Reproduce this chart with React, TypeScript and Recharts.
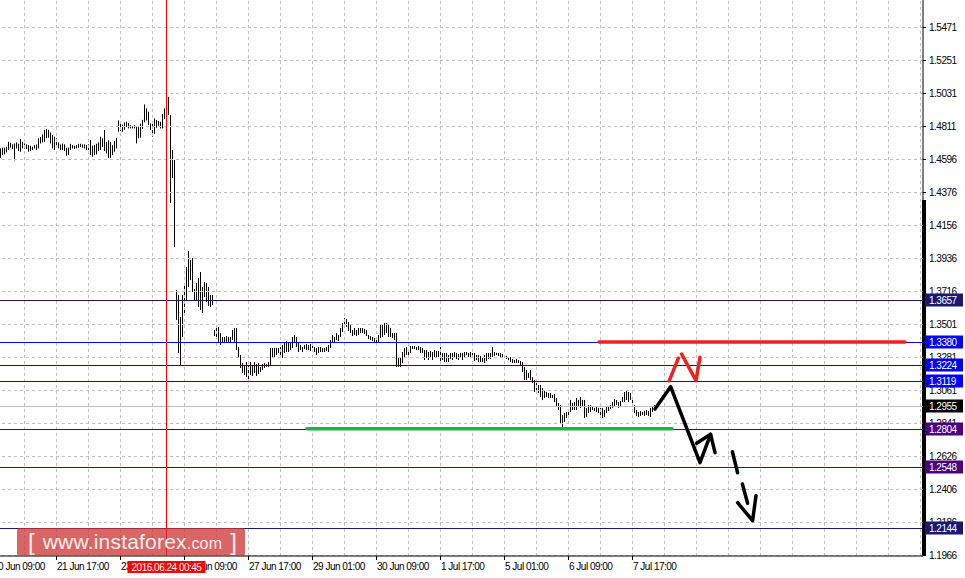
import React from 'react';
import { ComposedChart, Bar, Line, XAxis, YAxis, ReferenceLine } from 'recharts';

// GBP/USD H1 bars, highs and lows (one bar per hour)
const highs = [
  1.4664, 1.4669, 1.4669, 1.4675, 1.4708, 1.4702, 1.4691, 1.4697, 1.4704, 1.4695,
  1.4726, 1.4708, 1.4697, 1.4691, 1.4686, 1.4682, 1.4675, 1.4686, 1.4691, 1.4731,
  1.4740, 1.4757, 1.4788, 1.4793, 1.4788, 1.4770, 1.4753, 1.4742, 1.4731, 1.4704,
  1.4691, 1.4697, 1.4691, 1.4669, 1.4669, 1.4695, 1.4686, 1.4682, 1.4686, 1.4695,
  1.4695, 1.4691, 1.4691, 1.4686, 1.4691, 1.4720, 1.4682, 1.4686, 1.4695, 1.4704,
  1.4742, 1.4731, 1.4786, 1.4708, 1.4717, 1.4708, 1.4686, 1.4713, 1.4735, 1.4850,
  1.4832, 1.4823, 1.4837, 1.4841, 1.4832, 1.4819, 1.4810, 1.4819, 1.4812, 1.4808,
  1.4828, 1.4854, 1.4956, 1.4930, 1.4907, 1.4830, 1.4841, 1.4863, 1.4852, 1.4846,
  1.4841, 1.4894, 1.4930, 1.4985, 1.5005, 1.4886, 1.4654, 1.4587, 1.3725, 1.3691,
  1.3545, 1.3691, 1.3758, 1.3877, 1.3983, 1.3924, 1.3937, 1.3731, 1.3771, 1.3804,
  1.3844, 1.3745, 1.3778, 1.3771, 1.3745, 1.3691, 1.3691, 1.3459, 1.3492, 1.3479,
  1.3439, 1.3413, 1.3413, 1.3419, 1.3413, 1.3413, 1.3459, 1.3472, 1.3472, 1.3346,
  1.3293, 1.3240, 1.3227, 1.3247, 1.3227, 1.3247, 1.3227, 1.3247, 1.3233, 1.3240,
  1.3214, 1.3233, 1.3240, 1.3233, 1.3247, 1.3340, 1.3340, 1.3340, 1.3340, 1.3340,
  1.3346, 1.3360, 1.3380, 1.3386, 1.3373, 1.3380, 1.3413, 1.3426, 1.3413, 1.3373,
  1.3360, 1.3346, 1.3360, 1.3366, 1.3360, 1.3366, 1.3360, 1.3346, 1.3340, 1.3346,
  1.3346, 1.3340, 1.3340, 1.3346, 1.3360, 1.3393, 1.3426, 1.3413, 1.3439, 1.3426,
  1.3472, 1.3506, 1.3539, 1.3532, 1.3512, 1.3492, 1.3459, 1.3472, 1.3459, 1.3472,
  1.3472, 1.3472, 1.3466, 1.3459, 1.3426, 1.3419, 1.3413, 1.3406, 1.3406, 1.3426,
  1.3492, 1.3499, 1.3506, 1.3506, 1.3492, 1.3472, 1.3439, 1.3439, 1.3439, 1.3280,
  1.3280, 1.3313, 1.3340, 1.3346, 1.3326, 1.3353, 1.3353, 1.3353, 1.3346, 1.3353,
  1.3346, 1.3340, 1.3326, 1.3326, 1.3313, 1.3320, 1.3313, 1.3326, 1.3320, 1.3320,
  1.3346, 1.3307, 1.3307, 1.3307, 1.3293, 1.3307, 1.3307, 1.3313, 1.3307, 1.3300,
  1.3307, 1.3307, 1.3313, 1.3313, 1.3307, 1.3313, 1.3307, 1.3307, 1.3293, 1.3293,
  1.3287, 1.3280, 1.3293, 1.3307, 1.3307, 1.3307, 1.3346, 1.3313, 1.3307, 1.3307,
  1.3307, 1.3300, 1.3293, 1.3287, 1.3280, 1.3280, 1.3267, 1.3260, 1.3267, 1.3260,
  1.3253, 1.3247, 1.3214, 1.3194, 1.3174, 1.3194, 1.3147, 1.3127, 1.3108, 1.3094,
  1.3094, 1.3074, 1.3061, 1.3048, 1.3041, 1.3041, 1.3028, 1.3034, 1.3008, 1.2975,
  1.2961, 1.2895, 1.2908, 1.2915, 1.2928, 1.2995, 1.2975, 1.2981, 1.3008, 1.2995,
  1.3015, 1.2995, 1.2995, 1.2942, 1.2961, 1.2961, 1.2948, 1.2942, 1.2948, 1.2942,
  1.2942, 1.2942, 1.2928, 1.2948, 1.2955, 1.2961, 1.2981, 1.3001, 1.2995, 1.2981,
  1.2988, 1.3015, 1.3048, 1.3061, 1.3048, 1.3041, 1.3015, 1.2961, 1.2928, 1.2915,
  1.2922, 1.2915, 1.2922, 1.2928, 1.2922, 1.2942, 1.2948, 1.2961,
];

const lows = [
  1.4602, 1.4620, 1.4624, 1.4638, 1.4653, 1.4669, 1.4660, 1.4585, 1.4664, 1.4647,
  1.4642, 1.4664, 1.4664, 1.4660, 1.4642, 1.4647, 1.4653, 1.4664, 1.4653, 1.4664,
  1.4697, 1.4704, 1.4708, 1.4731, 1.4735, 1.4697, 1.4664, 1.4653, 1.4669, 1.4664,
  1.4653, 1.4653, 1.4647, 1.4616, 1.4620, 1.4653, 1.4664, 1.4660, 1.4664, 1.4669,
  1.4673, 1.4669, 1.4664, 1.4653, 1.4653, 1.4620, 1.4609, 1.4620, 1.4624, 1.4647,
  1.4653, 1.4675, 1.4647, 1.4631, 1.4602, 1.4602, 1.4620, 1.4642, 1.4664, 1.4775,
  1.4779, 1.4775, 1.4788, 1.4806, 1.4797, 1.4797, 1.4797, 1.4797, 1.4697, 1.4731,
  1.4735, 1.4793, 1.4837, 1.4850, 1.4819, 1.4786, 1.4742, 1.4761, 1.4801, 1.4815,
  1.4797, 1.4797, 1.4859, 1.4899, 1.4886, 1.4302, 1.4468, 1.4010, 1.3526, 1.3307,
  1.3227, 1.3413, 1.3559, 1.3658, 1.3745, 1.3791, 1.3711, 1.3658, 1.3658, 1.3612,
  1.3592, 1.3572, 1.3678, 1.3645, 1.3618, 1.3612, 1.3625, 1.3419, 1.3413, 1.3373,
  1.3360, 1.3373, 1.3380, 1.3380, 1.3380, 1.3373, 1.3393, 1.3380, 1.3326, 1.3280,
  1.3207, 1.3174, 1.3161, 1.3147, 1.3134, 1.3161, 1.3154, 1.3174, 1.3154, 1.3167,
  1.3180, 1.3194, 1.3207, 1.3214, 1.3214, 1.3227, 1.3273, 1.3280, 1.3293, 1.3307,
  1.3293, 1.3273, 1.3307, 1.3313, 1.3313, 1.3326, 1.3340, 1.3380, 1.3346, 1.3313,
  1.3326, 1.3313, 1.3333, 1.3326, 1.3326, 1.3320, 1.3340, 1.3313, 1.3293, 1.3307,
  1.3313, 1.3313, 1.3313, 1.3320, 1.3313, 1.3340, 1.3373, 1.3373, 1.3393, 1.3386,
  1.3413, 1.3446, 1.3472, 1.3479, 1.3452, 1.3439, 1.3419, 1.3426, 1.3419, 1.3426,
  1.3439, 1.3439, 1.3433, 1.3419, 1.3399, 1.3393, 1.3386, 1.3380, 1.3373, 1.3380,
  1.3406, 1.3413, 1.3426, 1.3439, 1.3413, 1.3413, 1.3406, 1.3393, 1.3214, 1.3214,
  1.3214, 1.3240, 1.3280, 1.3293, 1.3280, 1.3307, 1.3333, 1.3333, 1.3326, 1.3326,
  1.3307, 1.3307, 1.3260, 1.3273, 1.3260, 1.3273, 1.3260, 1.3280, 1.3273, 1.3280,
  1.3247, 1.3260, 1.3247, 1.3247, 1.3247, 1.3267, 1.3260, 1.3273, 1.3267, 1.3260,
  1.3273, 1.3260, 1.3280, 1.3293, 1.3280, 1.3280, 1.3280, 1.3253, 1.3260, 1.3247,
  1.3247, 1.3247, 1.3240, 1.3253, 1.3267, 1.3267, 1.3280, 1.3287, 1.3293, 1.3287,
  1.3280, 1.3280, 1.3273, 1.3267, 1.3260, 1.3247, 1.3240, 1.3240, 1.3240, 1.3240,
  1.3227, 1.3180, 1.3127, 1.3127, 1.3141, 1.3127, 1.3108, 1.3048, 1.3048, 1.3041,
  1.3015, 1.2995, 1.3008, 1.3015, 1.3008, 1.3008, 1.3008, 1.2981, 1.2948, 1.2928,
  1.2842, 1.2809, 1.2849, 1.2875, 1.2882, 1.2915, 1.2928, 1.2928, 1.2928, 1.2948,
  1.2942, 1.2948, 1.2875, 1.2882, 1.2908, 1.2915, 1.2928, 1.2922, 1.2915, 1.2908,
  1.2895, 1.2875, 1.2882, 1.2908, 1.2922, 1.2935, 1.2942, 1.2955, 1.2961, 1.2942,
  1.2955, 1.2981, 1.2981, 1.2995, 1.2981, 1.2995, 1.2961, 1.2908, 1.2889, 1.2882,
  1.2889, 1.2895, 1.2889, 1.2895, 1.2889, 1.2882, 1.2915, 1.2928,
];

const priceTicks = [
  1.5471, 1.5251, 1.5031, 1.4811, 1.4596, 1.4376, 1.4156, 1.3936, 1.3716,
  1.3501, 1.3281, 1.3061, 1.2841, 1.2626, 1.2406, 1.2186, 1.1966,
];

// bar number of each time label (bar 0 is the first bar on screen)
const timeTickBars = [-4, 28, 60, 92, 124, 156, 188, 220, 252, 284, 316];
const timeTickLabels = [
  '20 Jun 09:00', '21 Jun 17:00', '23 Jun 01:00', '24 Jun 09:00', '27 Jun 17:00',
  '29 Jun 01:00', '30 Jun 09:00', '1 Jul 17:00', '5 Jul 01:00', '6 Jul 09:00', '7 Jul 17:00',
];

const levelPrices = [1.3657, 1.338, 1.3224, 1.3119, 1.2955, 1.2804, 1.2548, 1.2144];
const levelLineColors = ['#191970', '#0000ff', '#0000ff', '#0000ff', '#c0c0c0', '#4b0082', '#4b0082', '#191970'];
const levelTagColors = ['#191970', '#0000ff', '#0000ff', '#0000ff', '#000000', '#4b0082', '#4b0082', '#191970'];

const markerBar = 83.25;
const markerLabel = '2016.06.24 00:45';

// hand-drawn annotations, in bar number / price
const resistanceLine = [{ i: 299.5, p: 1.338 }, { i: 452.5, p: 1.338 }];
const supportLine = [{ i: 153.5, p: 1.2804 }, { i: 336, p: 1.2804 }];
const redUp = [{ i: 334.6, p: 1.3122 }, { i: 339.2, p: 1.3272 }];
const redZig = [{ i: 340.8, p: 1.33 }, { i: 348, p: 1.3123 }, { i: 350, p: 1.3278 }];
const blackPath = [
  { i: 327.5, p: 1.2935 }, { i: 335.3, p: 1.3083 }, { i: 350, p: 1.2579 },
  { i: 355.3, p: 1.2767 }, { i: 357.5, p: 1.2645 },
];
const blackHead = [{ i: 348.3, p: 1.2707 }, { i: 355.3, p: 1.2767 }];
const dashA = [{ i: 366.2, p: 1.2651 }, { i: 368.8, p: 1.2512 }];
const dashB = [{ i: 371.2, p: 1.2437 }, { i: 373.8, p: 1.2309 }];
const dashHead = [{ i: 368.8, p: 1.2313 }, { i: 376.3, p: 1.2194 }, { i: 378, p: 1.236 }];

const bars = highs.map((h, i) => ({ i, hl: [lows[i], h] }));
const gridBars = Array.from({ length: 29 }, (_, k) => 12.25 + 16 * k);

const FONT = "'Liberation Sans', Arial, sans-serif";
const AXIS_TEXT = { fontSize: 10, fontFamily: FONT, letterSpacing: -0.5 };

const HLBar = (props: any) => {
  const { x, y, width, height } = props;
  if (x == null || y == null) return null;
  const cx = Math.round(x + width / 2);
  return <rect x={cx} y={y} width={1} height={Math.max(height, 1)} fill="#000" />;
};

// keeps 1px reference lines on whole pixels
const crisp = (props: any) => {
  const { x1, y1, x2, y2, stroke, strokeDasharray } = props;
  if (x1 == null) return <g />;
  if (Math.abs(y1 - y2) < 0.01) {
    const y = Math.round(y1) + 0.5;
    return <line x1={x1} x2={x2} y1={y} y2={y} stroke={stroke} strokeWidth={1} strokeDasharray={strokeDasharray} />;
  }
  const x = Math.floor(x1) + 0.5;
  return <line x1={x} x2={x} y1={y1} y2={y2} stroke={stroke} strokeWidth={1} strokeDasharray={strokeDasharray} />;
};

const PriceTick = ({ x, y, payload }: any) => {
  const k = levelPrices.indexOf(payload.value);
  const cy = Math.round(y) + 0.5;
  if (k >= 0) {
    return (
      <g>
        <rect x={x - 4} y={cy - 7} width={38} height={13} fill={levelTagColors[k]} />
        <text x={x} y={cy + 3.5} {...AXIS_TEXT} fill="#fff">
          {Number(payload.value).toFixed(4)}
        </text>
      </g>
    );
  }
  return (
    <g>
      <line x1={x - 6} x2={x - 3} y1={cy} y2={cy} stroke="#000" />
      <text x={x} y={cy + 3.5} {...AXIS_TEXT} fill="#000">
        {Number(payload.value).toFixed(4)}
      </text>
    </g>
  );
};

const TimeTick = ({ x, y, payload }: any) => {
  if (payload.value === markerBar) {
    return (
      <g>
        <rect x={x - 39} y={y - 1} width={78} height={12} fill="#ff0000" />
        <text x={x} y={y + 8.5} textAnchor="middle" {...AXIS_TEXT} fill="#fff">
          {markerLabel}
        </text>
      </g>
    );
  }
  const k = timeTickBars.indexOf(payload.value);
  const tx = Math.round(x) + 0.5;
  return (
    <g>
      <line x1={tx} x2={tx} y1={y - 6} y2={y - 2} stroke="#000" />
      <text x={x + 1} y={y + 8} {...AXIS_TEXT} fill="#000">
        {timeTickLabels[k]}
      </text>
    </g>
  );
};

const pathLine = (data: any[], color: string, key: string) => (
  <Line
    key={key}
    data={data}
    dataKey="p"
    type="linear"
    stroke={color}
    strokeWidth={3.5}
    strokeLinecap="round"
    strokeLinejoin="round"
    dot={false}
    activeDot={false}
    isAnimationActive={false}
  />
);

export default function App() {
  return (
    <div style={{ position: 'absolute', left: 0, top: 0, width: 965, height: 578, background: '#fff' }}>
      <div style={{ position: 'absolute', left: 922, top: 200, width: 4, height: 356, background: '#000' }} />
      <div style={{ position: 'absolute', left: 0, top: 0 }}>
        <ComposedChart width={965} height={578} data={bars} margin={{ top: 0, right: 0, bottom: 0, left: 0 }}>
          <XAxis
            dataKey="i"
            type="number"
            domain={[0, 461.5]}
            allowDataOverflow
            ticks={[...timeTickBars, markerBar]}
            interval={0}
            height={22}
            tick={<TimeTick />}
            tickSize={4}
            tickMargin={2}
            axisLine={{ stroke: '#000' }}
            tickLine={false}
          />
          <YAxis
            orientation="right"
            type="number"
            domain={[1.19594, 1.5649]}
            allowDataOverflow
            ticks={[...priceTicks, ...levelPrices]}
            interval={0}
            width={42}
            tick={<PriceTick />}
            tickSize={3}
            tickMargin={3}
            axisLine={{ stroke: '#000' }}
            tickLine={false}
          />
          {priceTicks.map((p) => (
            <ReferenceLine key={'h' + p} y={p} stroke="#c0c0c0" strokeDasharray="3 3" shape={crisp} />
          ))}
          {gridBars.map((g) => (
            <ReferenceLine key={'g' + g} x={g} stroke="#c0c0c0" strokeDasharray="3 3" shape={crisp} />
          ))}
          {levelPrices.map((p, k) => (
            <ReferenceLine key={'l' + p} y={p} stroke={levelLineColors[k]} shape={crisp} />
          ))}
          <ReferenceLine x={markerBar} stroke="#ff0000" shape={crisp} />
          <Bar dataKey="hl" barSize={1} shape={<HLBar />} isAnimationActive={false} />
          {pathLine(supportLine, '#22b14c', 'sup')}
          {pathLine(resistanceLine, '#ee2222', 'res')}
          {pathLine(redUp, '#ee2222', 'ru')}
          {pathLine(redZig, '#ee2222', 'rz')}
          {pathLine(blackPath, '#000', 'bp')}
          {pathLine(blackHead, '#000', 'bh')}
          {pathLine(dashA, '#000', 'da')}
          {pathLine(dashB, '#000', 'db')}
          {pathLine(dashHead, '#000', 'dh')}
        </ComposedChart>
      </div>
      <div
        style={{
          position: 'absolute',
          left: 17,
          top: 528,
          width: 228,
          height: 28,
          background: 'rgba(205, 50, 50, 0.75)',
          borderRadius: 3,
          color: '#fdf0f0',
          fontFamily: FONT,
          display: 'flex',
          alignItems: 'center',
          justifyContent: 'space-between',
          padding: '0 8px 0 11px',
          boxSizing: 'border-box',
          whiteSpace: 'nowrap',
        }}
      >
        <span style={{ fontSize: 24, fontWeight: 300 }}>[</span>
        <span style={{ fontSize: 21, letterSpacing: 0.2 }}>
          www.instaforex<span style={{ fontSize: 16 }}>.com</span>
        </span>
        <span style={{ fontSize: 24, fontWeight: 300 }}>]</span>
      </div>
    </div>
  );
}
